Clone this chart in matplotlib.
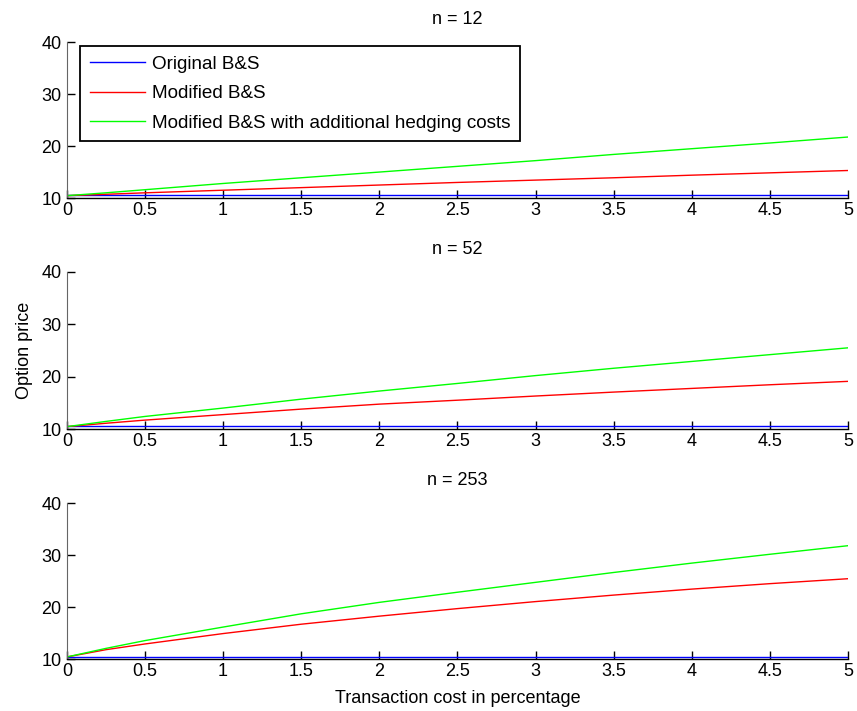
import matplotlib
matplotlib.use("Agg")
import matplotlib.pyplot as plt

# transaction cost (%) on the x axis
cost = [0, 0.25, 0.5, 1, 1.5, 2, 2.5, 3, 3.5, 4, 4.5, 5]

titles = ["n = 12", "n = 52", "n = 253"]

# original Black-Scholes price does not depend on the cost
original_bs = [10.5] * len(cost)

modified_12 = [10.45, 10.72, 11.0, 11.5, 12.0, 12.5, 13.0, 13.45, 13.9, 14.4, 14.85, 15.3]
hedging_12 = [10.45, 11.0, 11.6, 12.8, 13.9, 15.0, 16.1, 17.2, 18.4, 19.5, 20.6, 21.75]

modified_52 = [10.45, 11.1, 11.7, 12.75, 13.8, 14.75, 15.5, 16.3, 17.05, 17.75, 18.45, 19.1]
hedging_52 = [10.45, 11.45, 12.4, 14.0, 15.7, 17.25, 18.7, 20.2, 21.6, 22.9, 24.2, 25.5]

modified_253 = [10.45, 11.85, 12.95, 14.95, 16.75, 18.3, 19.75, 21.1, 22.35, 23.5, 24.55, 25.5]
hedging_253 = [10.45, 12.1, 13.6, 16.2, 18.75, 20.95, 22.9, 24.8, 26.7, 28.5, 30.2, 31.85]

modified = [modified_12, modified_52, modified_253]
hedging = [hedging_12, hedging_52, hedging_253]

labels = ["Original B&S", "Modified B&S",
          "Modified B&S with additional hedging costs"]

plt.rcParams["font.family"] = ["Liberation Sans", "DejaVu Sans"]
plt.rcParams["font.size"] = 13

fig = plt.figure(figsize=(8.57, 7.11), dpi=100)

boxes = [[0.078, 0.7215, 0.9115, 0.219],
         [0.078, 0.3966, 0.9115, 0.221],
         [0.078, 0.0727, 0.9115, 0.2194]]

axes = []
for i in range(3):
    ax = fig.add_axes(boxes[i])
    l1, = ax.plot(cost, original_bs, color="#0000ff", lw=1)
    l2, = ax.plot(cost, modified[i], color="#ff0000", lw=1)
    l3, = ax.plot(cost, hedging[i], color="#00ff00", lw=1)
    ax.set_xlim(0, 5)
    ax.set_ylim(10, 40)
    ax.set_xticks([0, 0.5, 1, 1.5, 2, 2.5, 3, 3.5, 4, 4.5, 5])
    ax.set_xticklabels(["0", "0.5", "1", "1.5", "2", "2.5", "3", "3.5", "4", "4.5", "5"])
    ax.set_yticks([10, 20, 30, 40])
    ax.tick_params(direction="in", length=5.8, width=1, labelsize=13)
    ax.tick_params(axis="x", pad=3)
    ax.tick_params(axis="y", pad=4)
    ax.spines["top"].set_visible(False)
    ax.spines["right"].set_visible(False)
    ax.spines["left"].set_color("#666666")
    ax.spines["bottom"].set_color("black")
    ax.spines["bottom"].set_linewidth(1.0)
    ax.set_title(titles[i], fontsize=13, pad=13)
    axes.append(ax)
    if i == 0:
        leg = ax.legend([l1, l2, l3], labels, loc="upper left",
                        bbox_to_anchor=(0.017, 0.977), borderaxespad=0,
                        fancybox=False, framealpha=1, fontsize=13.6,
                        handlelength=2.95, handletextpad=0.35,
                        labelspacing=0.66, borderpad=0.5)
        leg.get_frame().set_edgecolor("black")
        leg.get_frame().set_linewidth(1.3)

axes[1].set_ylabel("Option price", fontsize=13, labelpad=6)
axes[2].set_xlabel("Transaction cost in percentage", fontsize=13, labelpad=7)

fig.savefig("out.png", dpi=100)
